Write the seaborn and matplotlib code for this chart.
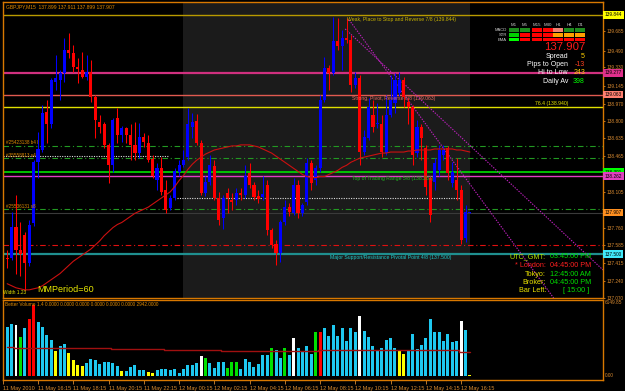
import numpy as np
import matplotlib
matplotlib.use("Agg")
import matplotlib.pyplot as plt
from matplotlib.patches import Rectangle
from matplotlib import transforms
import seaborn as sns

# ---------------- data ----------------
bar_open = [
    137.46, 137.46, 137.77, 137.54, 137.69, 137.41, 137.80, 138.40, 138.52, 138.89,
    138.77, 139.19, 139.21, 139.27, 139.50, 139.47, 139.33, 139.30, 139.24, 139.28,
    139.04, 138.79, 138.77, 138.57, 138.37, 138.83, 138.67, 138.74, 138.67, 138.57,
    138.49, 138.65, 138.59, 138.43, 138.23, 138.34, 138.13, 137.95, 138.05, 138.30,
    138.37, 138.45, 138.75, 138.80, 138.59, 138.10, 138.21, 138.36, 138.05, 137.85,
    138.10, 138.03, 138.03, 138.10, 138.08, 138.29, 138.18, 138.07, 138.06, 138.18,
    137.74, 137.60, 137.51, 137.81, 137.96, 137.90, 138.18, 137.90, 138.01, 138.39,
    138.23, 138.34, 139.01, 139.32, 139.27, 139.59, 139.54, 139.62, 139.60, 139.16,
    139.23, 138.50, 138.64, 138.86, 138.77, 138.77, 138.49, 138.86, 138.98, 139.08,
    139.21, 138.99, 138.94, 138.49, 138.75, 138.54, 138.25, 138.21, 138.32, 138.47,
    138.54, 138.20, 138.23, 138.13, 137.66, 137.899]
bar_high = [
    137.54, 137.91, 138.08, 137.81, 137.72, 137.83, 138.42, 138.70, 138.96, 139.01,
    139.23, 139.45, 139.30, 139.62, 139.67, 139.55, 139.42, 139.48, 139.45, 139.40,
    139.06, 138.86, 138.79, 138.59, 138.83, 138.93, 138.76, 138.75, 138.77, 138.79,
    138.78, 138.69, 138.67, 138.47, 138.39, 138.45, 138.23, 138.08, 138.34, 138.42,
    138.52, 138.93, 138.88, 138.87, 138.62, 138.27, 138.47, 138.42, 138.11, 138.08,
    138.15, 138.10, 138.15, 138.15, 138.37, 138.39, 138.21, 138.13, 138.27, 138.23,
    137.76, 137.64, 137.83, 138.03, 138.00, 138.25, 138.23, 138.00, 138.44, 138.42,
    138.37, 139.06, 139.43, 139.35, 139.82, 139.81, 139.70, 139.81, 139.65, 139.28,
    139.25, 138.72, 139.03, 139.01, 138.98, 138.86, 139.06, 139.25, 139.27, 139.28,
    139.24, 139.03, 138.96, 138.81, 138.77, 138.57, 138.27, 138.44, 138.57, 138.57,
    138.56, 138.40, 138.44, 138.18, 137.98, 137.911]
bar_low = [
    137.36, 137.44, 137.31, 137.29, 137.15, 137.38, 137.78, 138.25, 138.50, 138.59,
    138.74, 139.11, 139.01, 139.19, 139.42, 139.28, 139.18, 139.23, 139.21, 138.99,
    138.64, 138.69, 138.54, 138.20, 138.30, 138.59, 138.60, 138.59, 138.42, 138.42,
    138.44, 138.55, 138.40, 138.25, 138.13, 138.08, 137.90, 137.93, 138.03, 138.27,
    138.35, 138.42, 138.64, 138.57, 138.08, 138.07, 138.18, 138.03, 137.79, 137.75,
    137.90, 137.93, 137.98, 138.03, 138.05, 138.15, 138.03, 138.00, 138.03, 137.69,
    137.56, 137.39, 137.42, 137.79, 137.87, 137.88, 137.85, 137.87, 137.98, 138.13,
    138.18, 138.30, 138.99, 139.11, 139.25, 139.50, 139.30, 139.57, 139.09, 139.13,
    138.37, 138.47, 138.62, 138.70, 138.74, 138.45, 138.47, 138.84, 138.88, 139.05,
    138.94, 138.77, 138.37, 138.45, 138.42, 138.08, 137.81, 138.13, 138.27, 138.42,
    138.23, 138.16, 138.03, 137.60, 137.62, 137.899]
bar_close = [
    137.45, 137.77, 137.54, 137.50, 137.41, 137.79, 138.40, 138.53, 138.88, 138.77,
    139.21, 139.23, 139.27, 139.50, 139.47, 139.33, 139.31, 139.24, 139.28, 139.04,
    138.81, 138.75, 138.57, 138.37, 138.81, 138.67, 138.74, 138.67, 138.57, 138.49,
    138.65, 138.60, 138.42, 138.27, 138.34, 138.11, 137.93, 138.05, 138.31, 138.37,
    138.42, 138.77, 138.79, 138.59, 138.10, 138.21, 138.37, 138.05, 137.83, 138.05,
    138.05, 138.01, 138.10, 138.08, 138.27, 138.18, 138.06, 138.04, 138.09, 137.74,
    137.59, 137.51, 137.81, 137.96, 137.91, 138.18, 137.90, 137.98, 138.39, 138.20,
    138.34, 139.01, 139.32, 139.27, 139.59, 139.54, 139.62, 139.60, 139.16, 139.23,
    138.50, 138.65, 138.94, 138.75, 138.78, 138.50, 138.86, 139.01, 139.21, 139.21,
    139.04, 138.94, 138.47, 138.75, 138.64, 138.16, 137.88, 138.39, 138.52, 138.52,
    138.29, 138.30, 138.13, 137.64, 137.91, 137.907]
ma60 = [
    137.21, 137.19, 137.17, 137.16, 137.15, 137.15, 137.16, 137.17, 137.19, 137.22,
    137.25, 137.28, 137.31, 137.35, 137.39, 137.43, 137.46, 137.49, 137.52, 137.55,
    137.59, 137.63, 137.68, 137.72, 137.76, 137.79, 137.81, 137.84, 137.87, 137.90,
    137.92, 137.94, 137.96, 137.99, 138.02, 138.05, 138.08, 138.11, 138.16, 138.22,
    138.27, 138.33, 138.38, 138.42, 138.45, 138.48, 138.50, 138.52, 138.53, 138.54,
    138.55, 138.56, 138.56, 138.57, 138.57, 138.57, 138.56, 138.55, 138.53, 138.51,
    138.49, 138.46, 138.43, 138.40, 138.37, 138.34, 138.31, 138.28, 138.26, 138.25,
    138.25, 138.26, 138.26, 138.28, 138.30, 138.32, 138.35, 138.37, 138.40, 138.42,
    138.44, 138.45, 138.46, 138.47, 138.48, 138.49, 138.49, 138.50, 138.50, 138.50,
    138.50, 138.51, 138.51, 138.52, 138.52, 138.52, 138.52, 138.53, 138.53, 138.53,
    138.53, 138.53, 138.52, 138.52, 138.51, 138.50]
volume = [
    4116, 4368, 4284, 3276, 4032, 4788, 5964, 4536, 4116, 3444,
    3024, 2100, 2520, 2688, 1932, 1344, 924, 840, 1092, 1428,
    1344, 1008, 1176, 1176, 1092, 840, 420, 420, 756, 924,
    504, 504, 336, 252, 504, 588, 588, 504, 588, 252,
    588, 924, 924, 1092, 1680, 1512, 1092, 672, 1176, 1176,
    672, 1176, 1176, 588, 1428, 1176, 756, 1008, 1764, 1764,
    2352, 2184, 1512, 2352, 1764, 3192, 2352, 2100, 2520, 1848,
    3696, 3696, 4032, 3360, 4284, 3360, 4032, 2940, 4032, 3696,
    5040, 3780, 3276, 2520, 2100, 2352, 3024, 3192, 2352, 2100,
    1848, 2100, 3528, 2268, 2604, 3192, 4788, 3696, 3696, 2940,
    3528, 2856, 2940, 4620, 3864, 84]
volume_class = ("ccwgcrrccc" "cyccyyyycc" "ccccccyccc" "ccyycccccc"
                "ccccwgcccc" "gggccccccc" "gccgcwcccc" "grcccccccc"
                "wccccccccy" "yccccccccc" "cccwcy")
volume_avg = [
    2440, 2440, 2350, 2350, 2350, 2350, 2350, 2350, 2350, 2350,
    2350, 2350, 2350, 2350, 2350, 2350, 2350, 2350, 2350, 2350,
    2350, 2350, 2350, 2350, 2270, 2270, 2270, 2270, 2270, 2270,
    2270, 2270, 2270, 2270, 2270, 2270, 2190, 2190, 2190, 2190,
    2190, 2190, 2190, 2190, 2190, 2190, 2190, 2190, 2190, 2120,
    2120, 2120, 2120, 2120, 2120, 2120, 2120, 2120, 2120, 2120,
    2120, 2120, 2120, 2120, 2120, 2120, 2120, 2120, 2120, 2120,
    2120, 2180, 2180, 2180, 2180, 2180, 2180, 2180, 2180, 2180,
    2180, 2180, 2180, 2180, 2180, 2180, 2180, 2180, 2180, 2180,
    2180, 2180, 2180, 2180, 2180, 2180, 2180, 2180, 2180, 2180,
    2180, 2180, 2180, 2050, 2050, 2050]
time_labels = ["11 May 2010", "11 May 16:15", "11 May 18:15", "11 May 20:15",
               "11 May 22:15", "12 May 00:15", "12 May 02:15", "12 May 04:15",
               "12 May 06:15", "12 May 08:15", "12 May 10:15", "12 May 12:15",
               "12 May 14:15", "12 May 16:15"]
time_label_bars = [-0.9, 7, 15, 23, 31, 39, 47, 55, 63, 71, 79, 87, 95, 103]
price_ticks = [137.070, 137.240, 137.415, 137.585, 137.760, 138.105,
               138.465, 138.635, 138.800, 138.970, 139.145, 139.330, 139.490, 139.685]

# horizontal levels
level_prices = [139.844, 139.277, 139.063, 138.940, 138.559, 138.440,
                138.301, 138.262, 137.940, 137.907, 137.585, 137.500]
level_colors = ["#b89a00", "#d0307f", "#e05a50", "#e0e000", "#229922", "#229922",
                "#00e000", "#e040c0", "#229922", "#3a3a3a", "#e01010", "#1f8f8f"]
level_styles = ["-", "-", "-", "-", "dashdot", "dashdot",
                "-", "-", "dashdot", "-", "dashdot", "-"]
level_widths = [1.0, 1.6, 1.0, 1.0, 0.8, 0.8, 1.2, 1.0, 0.8, 0.8, 0.8, 1.6]
white_dots_price = [138.461, 138.050]
white_dots_from = [-0.95, 38.5]
white_dots_to = [36.5, 103.0]
trend_a_bars = [77.6, 124.0]
trend_a_prices = [139.794, 137.070]
trend_b_bars = [76.7, 135.2]
trend_b_prices = [139.706, 137.345]
session_start, session_end = 39.9, 105.1

axis_boxes = [(139.844, "139.844", "#ffff00"), (139.277, "139.277", "#e0308c"),
              (139.063, "139.063", "#ff8070"), (138.301, "138.301", "#00ff00"),
              (138.262, "138.262", "#e040c0"), (137.907, "137.907", "#ff9020"),
              (137.500, "137.500", "#40e8f8")]

tf_names = ["M1", "M5", "M15", "M30", "H1", "H4", "D1"]
ind_names = ["MACD", "STR", "EMA"]
ind_colors = [
    ["#1e8c1e", "#1e8c1e", "#ff0000", "#ff0000", "#f08070", "#1e8c1e", "#1e8c1e"],
    ["#00d000", "#ff0000", "#ff0000", "#ff0000", "#ffa000", "#ffa000", "#ffa000"],
    ["#00ff00", "#ff0000", "#ff0000", "#ff0000", "#ff0000", "#ff0000", "#ff0000"],
]
stat_names = ["Spread", "Pips to Open", "Hi to Low", "Daily Av"]
stat_values = ["5", "-13", "243", "398"]
stat_colors = ["#ffd000", "#ff4020", "#ffd000", "#00ff00"]
clock_names = ["UTC_GMT:", "* London:", "Tokyo:", "Broker:", "Bar Left:"]
clock_values = ["03:45:00 PM", "04:45:00 PM", "12:45:00 AM", "04:45:00 PM", "[ 15:00 ]"]
clock_name_colors = ["#b0e000", "#ff2020", "#e8e000", "#e8e000", "#e8e000"]
clock_value_colors = ["#00e000", "#ff2020", "#00e000", "#00e000", "#00e000"]

# ---------------- style ----------------
sns.set_theme(style="dark", rc={"axes.facecolor": "black", "figure.facecolor": "black"})
plt.rcParams["font.family"] = ["Liberation Sans", "DejaVu Sans"]

W, H = 625, 391
ORANGE = "#d87800"
TXT = "#d88a30"


def fx(x):
    return x / W


def fy(y):
    return 1 - y / H


fig = plt.figure(figsize=(W / 100, H / 100), dpi=100, facecolor="black")
ax = fig.add_axes([fx(3), fy(298), 600 / W, 296 / H])
axv = fig.add_axes([fx(3), fy(380), 600 / W, 80 / H])

bars = np.arange(len(bar_close))
o = np.array(bar_open)
c = np.array(bar_close)
hi = np.array(bar_high)
lo = np.array(bar_low)

# ---------------- price panel ----------------
ax.set_facecolor("black")
ax.set_xlim(-0.95, 135.2)
ax.set_ylim(137.070, 139.970)
ax.axvspan(session_start, session_end, color="#1b1b1b", zorder=0, lw=0)

for p, col, ls, lw in zip(level_prices, level_colors, level_styles, level_widths):
    style = (0, (5, 2.5, 1, 2.5)) if ls == "dashdot" else "-"
    ax.axhline(p, color=col, linestyle=style, linewidth=lw, zorder=1)
for p, x0, x1 in zip(white_dots_price, white_dots_from, white_dots_to):
    ax.hlines(p, x0, x1, colors="#dddddd", linestyles=(0, (1, 1.2)), linewidth=0.8, zorder=1)

ax.plot(trend_a_bars, trend_a_prices, color="#c020c0", linestyle=(0, (1.2, 1.2)), lw=0.8, zorder=2)
ax.plot(trend_b_bars, trend_b_prices, color="#c020c0", linestyle=(0, (1.2, 1.2)), lw=0.8, zorder=2)

up = c >= o
cols = np.where(up, "#0000ff", "#ff0000")
ax.vlines(bars, lo, hi, colors=cols, linewidth=0.75, zorder=3)
body_bottom = np.minimum(o, c)
body_h = np.maximum(np.abs(c - o), 0.009)
ax.bar(bars, body_h, bottom=body_bottom, width=0.7, color=cols, linewidth=0, zorder=4)

sns.lineplot(x=bars, y=ma60, ax=ax, color="#cc1010", linewidth=0.8, legend=False, zorder=5)

ax.set_xticks([])
ax.yaxis.tick_right()
ax.set_yticks(price_ticks)
ax.set_yticklabels([f"{t:.3f}" for t in price_ticks])
ax.tick_params(axis="y", right=True, left=False, labelright=True, labelleft=False,
               colors=TXT, labelsize=3.4, length=1.5, width=0.6, pad=0.8)
ax.set_xlabel("")
ax.set_ylabel("")
ax.grid(False)
for s in ax.spines.values():
    s.set_color(ORANGE)
    s.set_linewidth(1.0)

btrans = transforms.blended_transform_factory(ax.transAxes, ax.transData)
for p, lab, col in axis_boxes:
    ax.text(1.003, p, lab, transform=btrans, ha="left", va="center", fontsize=3.4,
            color="black", zorder=10, clip_on=False,
            bbox=dict(boxstyle="square,pad=0.3", fc=col, ec="none"))

# level captions
ax.text(77.0, 139.80, "Weak, Place to Stop and Reverse 7/8 (139.844)", fontsize=3.7,
        color="#c8b400", va="center", ha="left", zorder=6)
ax.text(78.3, 139.02, "Strong, Pivot, Reverse 6/8 (139.063)", fontsize=3.7,
        color="#e86a60", va="center", ha="left", zorder=6)
ax.text(119.8, 138.98, "76.4 (138.940)", fontsize=3.7, color="#e8e800",
        va="center", ha="left", zorder=6)
ax.text(78.3, 138.24, "Top of Trading Range 5/8 (138.281)", fontsize=3.7,
        color="#20c020", va="center", ha="left", zorder=6)
ax.text(73.3, 137.47, "Major Support/Resistance Pivotal Point 4/8 (137.500)", fontsize=3.7,
        color="#20c8c8", va="center", ha="left", zorder=6)
ax.text(-0.3, 138.59, "#25423138 b4 l", fontsize=3.3, color="#e08a00", va="center", zorder=6)
ax.text(-0.3, 138.47, "#35558813 s4", fontsize=3.3, color="#e08a00", va="center", zorder=6)
ax.text(-0.3, 137.97, "#25536131 s8", fontsize=3.3, color="#e08a00", va="center", zorder=6)

# ---------------- volume panel ----------------
palette = {"c": "#1ec8f0", "w": "#ffffff", "g": "#00e000", "r": "#ff0000", "y": "#ffff00"}
axv.set_facecolor("black")
axv.set_xlim(-0.95, 135.2)
axv.set_ylim(-337, 6400)
axv.bar(bars, volume, width=0.68, color=[palette[k] for k in volume_class], linewidth=0)
sns.lineplot(x=bars, y=volume_avg, ax=axv, color="#a01010", linewidth=1.0,
             drawstyle="steps-mid", legend=False)
axv.set_yticks([])
axv.set_xticks(time_label_bars)
axv.set_xticklabels(time_labels, ha="left")
axv.tick_params(axis="x", colors=TXT, labelsize=4.0, length=3, width=0.6, pad=1.5,
                direction="out", bottom=True)
axv.set_xlabel("")
axv.set_ylabel("")
axv.grid(False)
for s in axv.spines.values():
    s.set_color(ORANGE)
    s.set_linewidth(1.0)
vtrans = transforms.blended_transform_factory(axv.transAxes, axv.transData)
axv.text(1.003, 6149.85, "6149.85", transform=vtrans, ha="left", va="center",
         fontsize=3.4, color=TXT, clip_on=False)
axv.text(1.003, 0, "0.00", transform=vtrans, ha="left", va="center",
         fontsize=3.4, color=TXT, clip_on=False)
axv.text(0.004, 0.94, "Better Volume 1.4 0.0000 0.0000 0.0000 0.0000 0.0000 0.0000 2942.0000",
         transform=axv.transAxes, fontsize=3.4, color="#e08a00", va="center", ha="left")

# ---------------- overlay texts ----------------
fig.text(fx(6), fy(6.5), "GBPJPY,M15  137.899 137.911 137.899 137.907",
         fontsize=3.6, color="#e08a00", va="center", ha="left")
fig.text(fx(3), fy(293), "Width 1.23", fontsize=3.4, color="#e8e800", va="center")
fig.text(fx(37), fy(290), "MMPeriod=60", fontsize=6.5, color="#e8e800", va="center")

cell_x = [514, 525, 537, 548, 558, 569, 580]
row_y = [29.8, 35.0, 39.6]
for name, xc in zip(tf_names, cell_x):
    fig.text(fx(xc), fy(24.5), name, fontsize=3.2, color="#d0d0d0", ha="center", va="center")
for r, (iname, yc) in enumerate(zip(ind_names, row_y)):
    fig.text(fx(507), fy(yc), iname, fontsize=3.0, color="#d0d0d0", ha="right", va="center")
    for col, xc in zip(ind_colors[r], cell_x):
        fig.patches.append(Rectangle((fx(xc - 5), fy(yc + 1.7)), 10 / W, 3.4 / H,
                                     transform=fig.transFigure, facecolor=col,
                                     edgecolor="none", zorder=5))

fig.text(fx(585), fy(47), "137.907", fontsize=8.2, color="#ff1a1a", ha="right", va="center")
for k, (nm, val, vc) in enumerate(zip(stat_names, stat_values, stat_colors)):
    yy = 56 + k * 8.4
    fig.text(fx(568), fy(yy), nm, fontsize=5.0, color="white", ha="right", va="center")
    fig.text(fx(585), fy(yy), val, fontsize=5.0, color=vc, ha="right", va="center")

for k, (nm, val, nc, vc) in enumerate(zip(clock_names, clock_values,
                                             clock_name_colors, clock_value_colors)):
    yy = 257 + k * 8.5
    fig.text(fx(546), fy(yy), nm, fontsize=5.2, color=nc, ha="right", va="center")
    xv = 563 if k == 4 else 550
    fig.text(fx(xv), fy(yy), val, fontsize=5.2, color=vc, ha="left", va="center")

fig.savefig("out.png", dpi=100, facecolor="black")
